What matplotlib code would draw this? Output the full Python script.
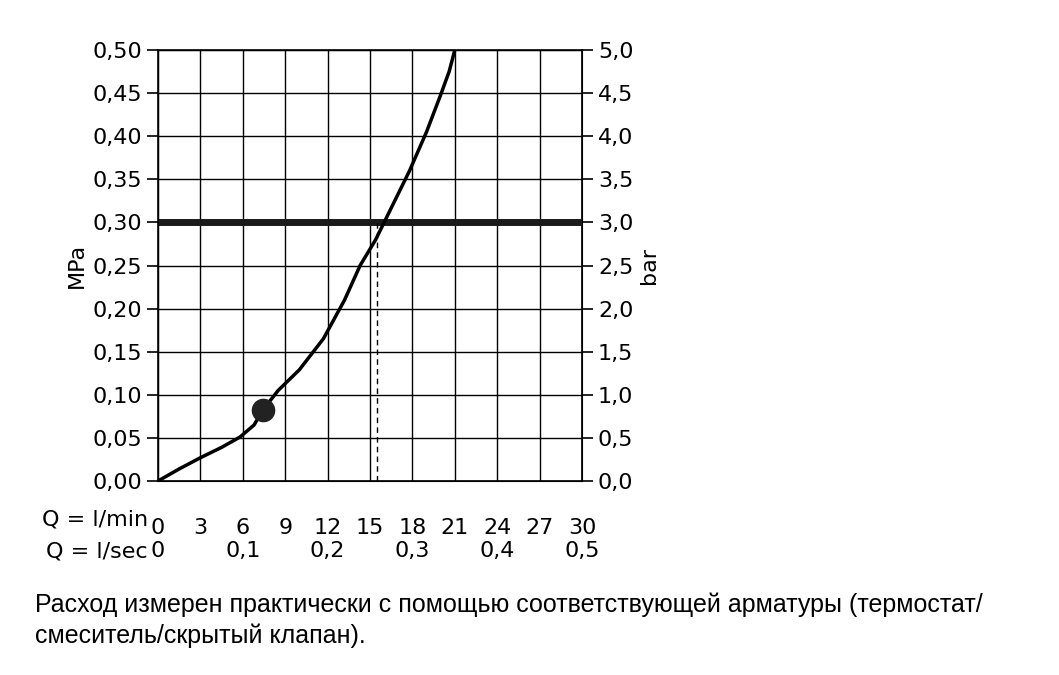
import matplotlib
matplotlib.use('Agg')
import matplotlib.pyplot as plt

# curve: flow in l/min, pressure in MPa
flow = [0, 1.5, 3, 4.5, 5.8, 6.8, 7.4, 8.5, 10, 11.7, 13.2, 14.3, 15.4, 16.6, 17.8, 19.0, 20.0, 20.6, 21.0]
press = [0, 0.014, 0.027, 0.039, 0.051, 0.065, 0.082, 0.105, 0.129, 0.165, 0.21, 0.25, 0.28, 0.32, 0.36, 0.405, 0.448, 0.475, 0.5]
point_q, point_p = 7.4, 0.082
dash_q = 15.5
limit_p = 0.30

mpa_ticks = [0.0, 0.05, 0.10, 0.15, 0.20, 0.25, 0.30, 0.35, 0.40, 0.45, 0.50]
lmin_ticks = [0, 3, 6, 9, 12, 15, 18, 21, 24, 27, 30]
lsec_pos = [0, 6, 12, 18, 24, 30]
lsec_labels = ['0', '0,1', '0,2', '0,3', '0,4', '0,5']

fs = 16
fig = plt.figure(figsize=(10.59, 6.75), dpi=100)
ax = fig.add_axes([158/1059, 1-481/675, 424/1059, 431/675])
ax.set_xlim(0, 30)
ax.set_ylim(0, 0.5)
ax.set_xticks(lmin_ticks)
ax.set_yticks(mpa_ticks)
ax.grid(True, color='black', lw=1)
ax.set_yticklabels([f'{v:.2f}'.replace('.', ',') for v in mpa_ticks], fontsize=fs)
ax.set_xticklabels([str(v) for v in lmin_ticks], fontsize=fs)
ax.tick_params(axis='y', length=8, width=1.2, direction='out')
ax.tick_params(axis='x', length=0, pad=27)
for s in ax.spines.values():
    s.set_linewidth(1.2)
ax.set_ylabel('MPa', fontsize=fs, labelpad=4)

ax2 = ax.twinx()
ax2.set_ylim(0, 5)
ax2.set_yticks([v * 10 for v in mpa_ticks])
ax2.set_yticklabels([f'{v*10:.1f}'.replace('.', ',') for v in mpa_ticks], fontsize=fs)
ax2.tick_params(axis='y', length=8, width=1.2, direction='out')
ax2.set_ylabel('bar', fontsize=fs, labelpad=4)

ax.axhline(limit_p, color='#1a1a1a', lw=5, zorder=3)
ax.plot([dash_q, dash_q], [0, limit_p], color='black', lw=1, ls=(0, (4, 3)), zorder=3)
ax.plot(flow, press, color='black', lw=2.5, zorder=4)
ax.plot([point_q], [point_p], 'o', color='#222222', ms=16, zorder=5)

for x, lab in zip(lsec_pos, lsec_labels):
    ax.text(x, -0.081, lab, ha='center', va='center', fontsize=fs, clip_on=False)
fig.text(148/1059, 1-519/675, 'Q = l/min', ha='right', va='center', fontsize=fs)
fig.text(148/1059, 1-551/675, 'Q = l/sec', ha='right', va='center', fontsize=fs)

fig.text(35/1059, 1-605/675, 'Расход измерен практически с помощью соответствующей арматуры (термостат/',
         fontsize=18, family='Liberation Sans', va='center')
fig.text(35/1059, 1-636/675, 'смеситель/скрытый клапан).', fontsize=18, family='Liberation Sans', va='center')

fig.savefig('out.png', dpi=100)
